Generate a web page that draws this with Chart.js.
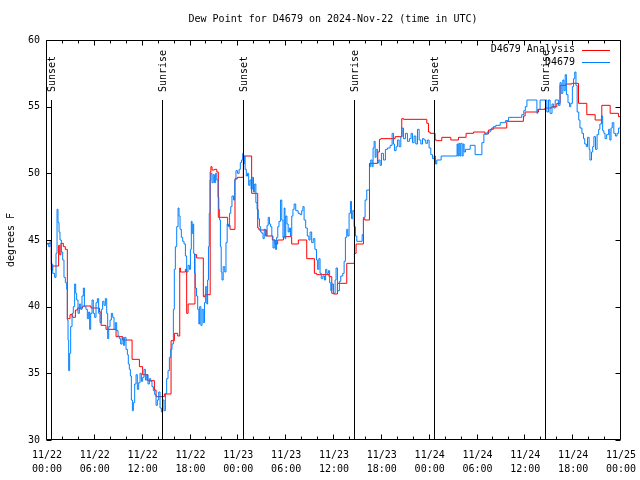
<!DOCTYPE html>
<html>
<head>
<meta charset="utf-8">
<script src="https://cdn.jsdelivr.net/npm/chart.js@4.4.1/dist/chart.umd.min.js"></script>
<style>
  html, body { margin: 0; padding: 0; background: #fff; }
  canvas { display: block; }
</style>
</head>
<body>
<canvas id="dewChart" width="640" height="480"></canvas>
<script>
// hours since 2024-11-22 00:00 UTC, dew point in degrees F
const analysisPoints = [
  [0, 44.75], [0.54, 42.75], [0.71, 43.05], [1.46, 44.6], [1.6, 43.9], [1.75, 44.75], [2.05, 44.5], [2.3, 44.3],
  [2.55, 39.1], [2.89, 39.4], [3.22, 39.2], [3.56, 39.75], [3.85, 39.9], [4.48, 40.05], [5.52, 39.9], [6.57, 39.6],
  [6.78, 38.6], [7.4, 38.3], [8.66, 37.75], [9.49, 37.5], [10.67, 36.05], [11.59, 35.5], [12.0, 34.9], [12.63, 34.45],
  [13.47, 33.75], [13.68, 33.25], [14.72, 33.45], [15.56, 37.45], [15.98, 38.0], [16.4, 37.8], [16.65, 42.9], [16.73, 42.6],
  [17.36, 42.8], [17.52, 39.5], [17.7, 40.2], [18.56, 43.9], [18.77, 43.65], [19.61, 40.75], [19.82, 40.9], [20.47, 50.1],
  [20.56, 50.5], [20.7, 50.25], [21.0, 50.3], [21.3, 50.1], [21.49, 46.7], [22.66, 46.1], [22.96, 45.8], [23.58, 49.6],
  [23.88, 49.7], [24.63, 51.3], [25.67, 48.5], [26.43, 45.9], [26.6, 45.75], [27.56, 45.3], [28.27, 45.0], [28.6, 44.7],
  [28.94, 45.0], [29.65, 45.25], [30.69, 44.7], [31.53, 45.0], [32.58, 43.6], [33.54, 42.5], [33.83, 42.4], [35.38, 42.25],
  [35.72, 41.0], [35.93, 40.95], [36.43, 41.75], [37.6, 43.25], [38.56, 44.0], [38.77, 44.7], [39.69, 46.6], [39.86, 46.5],
  [40.45, 50.75], [41.49, 51.6], [41.7, 52.55], [41.87, 52.6], [43.67, 52.75], [44.5, 54.1], [44.71, 54.05], [47.64, 53.75],
  [47.85, 53.1], [48.06, 53.0], [48.68, 52.5], [48.89, 52.45], [49.52, 52.7], [50.65, 52.5], [51.61, 52.7], [52.57, 53.0],
  [53.49, 53.1], [54.95, 52.95], [55.37, 53.25], [55.79, 53.4], [57.67, 53.9], [59.76, 54.3], [59.97, 54.6], [61.65, 54.8],
  [62.48, 54.9], [63.32, 55.0], [63.95, 55.25], [64.36, 56.6], [65.08, 56.7], [65.83, 56.75], [66.67, 55.25], [67.71, 54.4],
  [68.76, 54.0], [69.59, 55.1], [70.64, 54.5], [71.68, 54.25], [72, 54.25]
];

const obsPoints = [
  [0, 44.7], [0.21, 44.5], [0.38, 44.9], [0.54, 43.2], [0.71, 42.5], [0.96, 42.2], [1.13, 44], [1.26, 47.3],
  [1.38, 46.3], [1.51, 45.6], [1.63, 45], [1.8, 44.1], [1.97, 43.5], [2.13, 42.2], [2.3, 41.8], [2.47, 41.3],
  [2.55, 39], [2.64, 37.5], [2.72, 35.2], [2.84, 36.5], [2.97, 38.5], [3.14, 39.5], [3.3, 40], [3.47, 41.7],
  [3.6, 41], [3.72, 40.5], [3.89, 39.5], [4.06, 40.2], [4.23, 39.8], [4.39, 40.8], [4.56, 41.4], [4.69, 40],
  [4.89, 39.8], [5.06, 39.1], [5.23, 39.6], [5.35, 38.3], [5.48, 39.5], [5.65, 40.5], [5.81, 39.5], [5.98, 39.2],
  [6.15, 40.3], [6.32, 40.6], [6.48, 39.5], [6.65, 38.8], [6.82, 39.8], [6.98, 40.4], [7.15, 40.1], [7.32, 40.6],
  [7.49, 39.5], [7.61, 37.6], [7.74, 38.5], [7.91, 39], [8.07, 39.5], [8.24, 39.2], [8.41, 38.3], [8.57, 38.8],
  [8.74, 38.2], [8.91, 37.8], [9.08, 37.6], [9.24, 37.2], [9.41, 37.7], [9.58, 37.1], [9.74, 37.7], [9.91, 36.8],
  [10.08, 36.4], [10.2, 35.7], [10.33, 35.3], [10.46, 34.8], [10.58, 33], [10.71, 32.2], [10.83, 32.8], [11, 34.2],
  [11.17, 34.9], [11.33, 33.8], [11.5, 34.3], [11.67, 35], [11.84, 34.4], [12, 34.7], [12.17, 35.3], [12.34, 34.5],
  [12.51, 34.9], [12.67, 34.2], [12.84, 34.6], [13.01, 34.4], [13.17, 34], [13.34, 33.7], [13.51, 33.4], [13.68, 32.6],
  [13.84, 33], [14.01, 33.6], [14.18, 32.4], [14.35, 32.1], [14.51, 33], [14.68, 32.2], [14.85, 33.5], [15.01, 34.6],
  [15.18, 35.2], [15.35, 36.2], [15.52, 36.8], [15.68, 37.2], [15.85, 39.8], [15.97, 42.8], [16.1, 44.5], [16.27, 46],
  [16.44, 47.4], [16.56, 46.8], [16.69, 45.8], [16.85, 45.2], [17.02, 44.9], [17.19, 44.7], [17.36, 43.8], [17.52, 42.6],
  [17.69, 43.1], [17.86, 42.8], [17.99, 44.3], [18.1, 46.4], [18.2, 45.5], [18.3, 46.2], [18.4, 44.0], [18.5, 42.5],
  [18.6, 41.4], [18.75, 40.8], [18.9, 39.8], [19.05, 38.7], [19.15, 40.0], [19.3, 38.6], [19.45, 39.8], [19.6, 38.8],
  [19.75, 40.3], [19.9, 41.5], [20.05, 40.2], [20.15, 42.0], [20.25, 44.5], [20.35, 47.0], [20.45, 49.5], [20.55, 50.0],
  [20.7, 49.3], [20.85, 49.9], [21.0, 49.3], [21.15, 50.0], [21.3, 49.5], [21.45, 48.2], [21.55, 47.3], [21.65, 46.5],
  [21.75, 44.5], [21.85, 42.6], [21.95, 42.0], [22.1, 43.0], [22.3, 42.6], [22.45, 44.8], [22.6, 46.2], [22.75, 46.0],
  [22.9, 47.0], [23.05, 47.5], [23.2, 48.3], [23.4, 48.0], [23.55, 49.5], [23.7, 50.2], [23.9, 50.0], [24.1, 50.3],
  [24.25, 50.8], [24.4, 51.0], [24.55, 51.5], [24.65, 50.7], [24.75, 51.3], [24.85, 50.3], [25.0, 49.8], [25.15, 50.0],
  [25.3, 49.1], [25.45, 49.5], [25.6, 48.8], [25.75, 49.7], [25.9, 48.6], [26.05, 49.2], [26.2, 47.8], [26.35, 47.3],
  [26.5, 46.6], [26.65, 46.0], [26.8, 45.6], [26.95, 45.5], [27.1, 45.1], [27.25, 45.8], [27.4, 45.3], [27.6, 46.1],
  [27.75, 46.7], [27.9, 46.2], [28.05, 46.0], [28.2, 45.3], [28.35, 44.4], [28.5, 45.0], [28.65, 44.3], [28.8, 45.2],
  [28.95, 46.0], [29.1, 46.4], [29.3, 48.0], [29.45, 46.5], [29.6, 45.2], [29.75, 47.4], [29.85, 45.1], [29.95, 46.8],
  [30.1, 46.2], [30.25, 45.6], [30.4, 45.9], [30.55, 45.3], [30.7, 46.8], [30.85, 47.3], [31.0, 47.7], [31.2, 47.2],
  [31.5, 47.0], [31.75, 46.9], [31.95, 47.2], [32.1, 47.5], [32.25, 46.5], [32.45, 45.9], [32.65, 45.3], [32.85, 45.0],
  [33.0, 45.6], [33.2, 44.8], [33.4, 45.1], [33.6, 44.3], [33.8, 43.5], [33.95, 42.8], [34.1, 43.6], [34.25, 42.5],
  [34.4, 42.1], [34.6, 42.3], [34.8, 42.0], [34.95, 42.8], [35.1, 42.5], [35.3, 42.7], [35.45, 41.8], [35.6, 41.2],
  [35.75, 41.7], [35.93, 41.0], [36.14, 42.0], [36.26, 42.9], [36.43, 41.2], [36.68, 41.9], [36.85, 42.3], [37.1, 42.5],
  [37.27, 43.4], [37.43, 45.2], [37.6, 45.8], [37.73, 45.3], [37.89, 47.0], [38.06, 47.9], [38.19, 46.6], [38.35, 47.2],
  [38.52, 46.0], [38.69, 45.3], [38.86, 44.9], [39.53, 45.4], [39.69, 46.7], [39.9, 48.0], [40.11, 48.75], [40.45, 50.5],
  [40.61, 51.0], [40.78, 50.5], [40.9, 51.9], [41.03, 52.4], [41.16, 51.2], [41.28, 51.8], [41.45, 50.8], [41.62, 51.0],
  [41.78, 50.6], [41.95, 51.5], [42.2, 51.0], [42.45, 51.8], [42.7, 51.9], [43.04, 52.1], [43.29, 53.0], [43.46, 52.2],
  [43.58, 51.7], [43.79, 52.0], [43.96, 52.5], [44.17, 52.0], [44.38, 52.75], [44.54, 53.4], [44.71, 52.6], [44.96, 53.0],
  [45.21, 52.4], [45.46, 52.6], [45.67, 53.0], [45.84, 52.3], [46.05, 52.8], [46.26, 52.2], [46.47, 53.3], [46.68, 52.5],
  [46.89, 52.2], [47.1, 52.6], [47.3, 52.5], [47.51, 52.25], [47.72, 52.5], [47.93, 51.9], [48.14, 51.4], [48.35, 51.1],
  [48.56, 51.3], [48.73, 50.7], [48.89, 51.0], [49.44, 51.3], [51.44, 52.2], [51.53, 51.3], [51.65, 52.25], [51.78, 51.3],
  [51.9, 52.25], [52.07, 51.3], [52.2, 52.2], [52.32, 51.6], [52.49, 51.8], [53.08, 52.1], [53.7, 51.4], [54.55, 52.3],
  [54.8, 52.95], [55.2, 53.1], [55.6, 53.3], [56.0, 53.5], [56.3, 53.6], [56.85, 53.8], [57.5, 53.95], [57.9, 54.2],
  [59.55, 54.4], [59.8, 54.7], [60.0, 55.0], [60.2, 55.5], [61.45, 54.5], [61.55, 54.8], [61.85, 55.5], [62.7, 54.6],
  [62.9, 55.5], [63.1, 54.5], [63.35, 55.2], [63.55, 54.9], [63.75, 55.5], [64.15, 55.1], [64.35, 56.8], [64.5, 56.0],
  [64.7, 57.0], [64.85, 56.2], [65.0, 57.4], [65.15, 55.9], [65.35, 55.3], [65.55, 55.0], [65.7, 55.25], [65.9, 56.5],
  [66.05, 57.1], [66.2, 57.6], [66.35, 56.6], [66.5, 54.6], [66.7, 54.0], [66.85, 53.4], [67.1, 53.0], [67.3, 52.6],
  [67.45, 52.2], [67.65, 52.0], [67.8, 52.7], [68.0, 51.8], [68.1, 51.0], [68.3, 51.6], [68.45, 52.0], [68.6, 52.75],
  [68.8, 51.8], [69.0, 52.9], [69.2, 53.3], [69.35, 53.7], [69.55, 54.3], [69.7, 53.2], [69.85, 53.0], [70.0, 52.6],
  [70.2, 52.9], [70.45, 53.3], [70.6, 52.5], [70.75, 53.4], [70.9, 53.8], [71.1, 53.0], [71.3, 52.8], [71.5, 53.0],
  [71.7, 53.4], [72, 53.4]
];

const sunHours = [0.54, 14.43, 24.63, 38.56, 48.6, 62.52];
const sunLabels = ['Sunset', 'Sunrise', 'Sunset', 'Sunrise', 'Sunset', 'Sunrise'];
const seriesNames = ['D4679 Analysis', 'D4679'];
const seriesColors = ['#ff0000', '#0080ff'];
const dayLabels = ['11/22', '11/23', '11/24', '11/25'];
const titleText = 'Dew Point for D4679 on 2024-Nov-22 (time in UTC)';
const yTitle = 'degrees F';

const FONT = '"DejaVu Sans Mono", "Liberation Mono", monospace';

const toXY = pts => pts.map(p => ({ x: p[0], y: p[1] }));

// frame, gnuplot-style inward ticks, sun markers, title and legend
const decorPlugin = {
    id: 'decor',
    afterDatasetsDraw(chart) {
        const { ctx, chartArea: a, scales: { x, y } } = chart;
        const L = Math.round(a.left) - 0.5, R = Math.round(a.right) - 0.5;
        const T = Math.round(a.top) + 0.5, B = Math.round(a.bottom) - 0.5;
        ctx.save();
        ctx.strokeStyle = '#000';
        ctx.fillStyle = '#000';
        ctx.lineWidth = 1;

        // sunrise / sunset lines
        const lineTop = a.top + (a.bottom - a.top) * 0.15;
        ctx.font = '10px ' + FONT;
        sunHours.forEach((h, i) => {
            const px = Math.round(x.getPixelForValue(h)) + 0.5;
            ctx.beginPath();
            ctx.moveTo(px, lineTop);
            ctx.lineTo(px, B);
            ctx.stroke();
            ctx.save();
            ctx.translate(px + 1, lineTop - 8);
            ctx.rotate(-Math.PI / 2);
            ctx.textAlign = 'left';
            ctx.textBaseline = 'middle';
            ctx.fillText(sunLabels[i], 0, 0);
            ctx.restore();
        });

        // frame
        ctx.beginPath();
        ctx.rect(L, T, R - L, B - T);
        ctx.stroke();

        // x ticks every 2 h, longer every 6 h
        ctx.beginPath();
        for (let h = 0; h <= 72; h += 2) {
            const px = Math.round(x.getPixelForValue(h)) - 0.5;
            const len = h % 6 === 0 ? 5 : 3;
            ctx.moveTo(px, B); ctx.lineTo(px, B - len);
            ctx.moveTo(px, T); ctx.lineTo(px, T + len);
        }
        // y ticks
        for (let v = 30; v <= 60; v += 5) {
            const py = Math.round(y.getPixelForValue(v)) + 0.5;
            ctx.moveTo(L, py); ctx.lineTo(L + 5, py);
            ctx.moveTo(R, py); ctx.lineTo(R - 5, py);
        }
        ctx.stroke();

        // title
        ctx.textAlign = 'center';
        ctx.textBaseline = 'middle';
        ctx.fillText(titleText, (a.left + a.right) / 2 - 1, 19);

        // y axis title
        ctx.save();
        ctx.translate(11, (a.top + a.bottom) / 2);
        ctx.rotate(-Math.PI / 2);
        ctx.fillText(yTitle, 0, 0);
        ctx.restore();

        // legend
        seriesNames.forEach((name, i) => {
            const ly = 49.5 + i * 12.5;
            ctx.textAlign = 'right';
            ctx.fillStyle = '#000';
            ctx.fillText(name, 575, ly);
            ctx.strokeStyle = seriesColors[i];
            ctx.beginPath();
            ctx.moveTo(582, Math.round(ly) + 0.5);
            ctx.lineTo(610, Math.round(ly) + 0.5);
            ctx.stroke();
        });
        ctx.restore();
    }
};

const ctx = document.getElementById('dewChart').getContext('2d');
new Chart(ctx, {
    type: 'line',
    data: {
        datasets: [
            {
                label: seriesNames[1],
                data: toXY(obsPoints),
                borderColor: seriesColors[1],
                borderWidth: 1,
                pointRadius: 0,
                stepped: true,
                fill: false
            },
            {
                label: seriesNames[0],
                data: toXY(analysisPoints),
                borderColor: seriesColors[0],
                borderWidth: 1,
                pointRadius: 0,
                stepped: true,
                fill: false
            }
        ]
    },
    options: {
        responsive: false,
        animation: false,
        devicePixelRatio: 1,
        layout: { padding: { left: 0, top: 40, right: 19, bottom: 0 } },
        plugins: {
            legend: { display: false },
            title: { display: false },
            tooltip: { enabled: false }
        },
        scales: {
            x: {
                type: 'linear',
                min: 0,
                max: 72,
                afterFit: s => { s.height = 40; s.paddingLeft = 0; s.paddingRight = 0; },
                grid: { display: false, drawTicks: false },
                border: { display: false },
                ticks: {
                    stepSize: 6,
                    autoSkip: false,
                    maxRotation: 0,
                    padding: 8,
                    color: '#000',
                    font: { family: FONT, size: 10, lineHeight: '14px' },
                    callback: v => {
                        const hh = v % 24;
                        return [dayLabels[Math.floor(v / 24)], (hh < 10 ? '0' : '') + hh + ':00'];
                    }
                }
            },
            y: {
                min: 30,
                max: 60,
                afterFit: s => { s.width = 47; s.paddingTop = 0; s.paddingBottom = 0; },
                grid: { display: false, drawTicks: false },
                border: { display: false },
                ticks: {
                    stepSize: 5,
                    padding: 7,
                    color: '#000',
                    font: { family: FONT, size: 10 }
                }
            }
        }
    },
    plugins: [decorPlugin]
});
</script>
</body>
</html>
